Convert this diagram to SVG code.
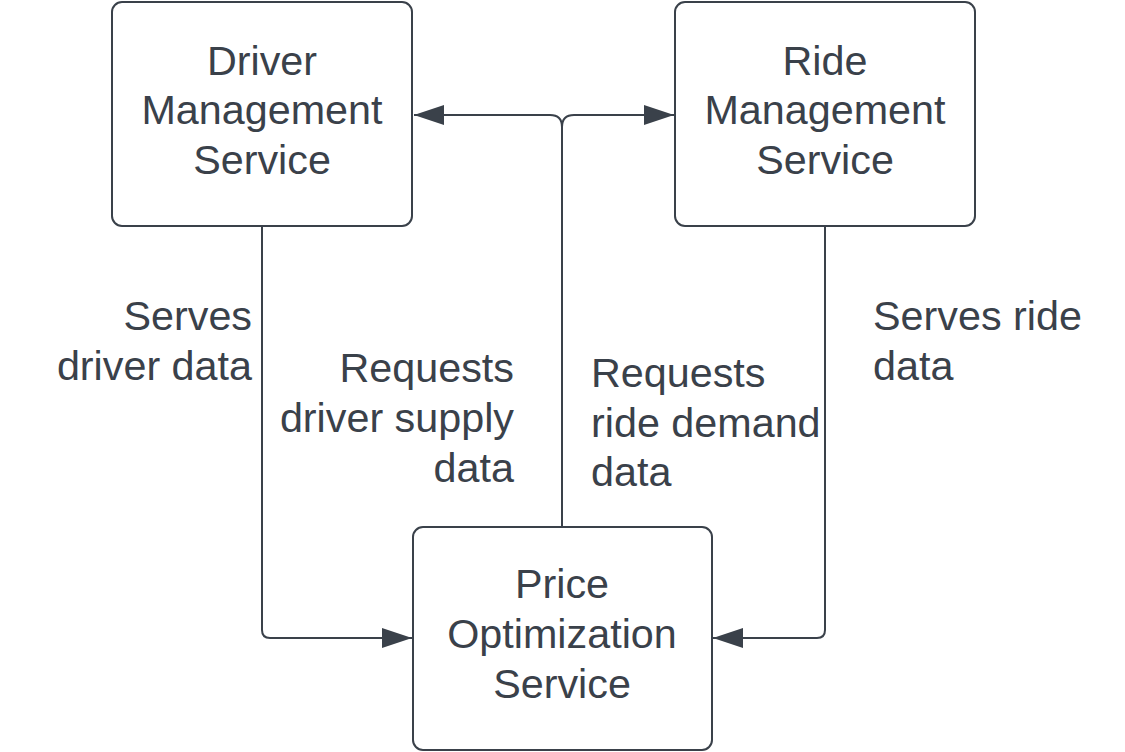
<svg xmlns="http://www.w3.org/2000/svg" width="1125" height="752" viewBox="0 0 1125 752">
<style>
.box{fill:#ffffff;stroke:#3a414a;stroke-width:2}
.t{font-family:"Liberation Sans",Arial,sans-serif;font-size:41.3px;fill:#3a414a}
.c{text-anchor:middle}
.e{text-anchor:end}
.line{fill:none;stroke:#3a414a;stroke-width:2}
</style>
<defs>
<marker id="ah" viewBox="0 0 30 20" refX="30" refY="10" markerWidth="30" markerHeight="20" markerUnits="userSpaceOnUse" orient="auto">
<path d="M0,0 L30,10 L0,20 Z" fill="#3a414a"/>
</marker>
</defs>
<rect width="1125" height="752" fill="#ffffff"/>
<g id="connectors">
<path class="line" d="M562,527 L562,127 Q562,115 550,115 L414,115" marker-end="url(#ah)"/>
<path class="line" d="M562,127 Q562,115 574,115 L674,115" marker-end="url(#ah)"/>
<path class="line" d="M262,226 L262,630 Q262,638 270,638 L412,638" marker-end="url(#ah)"/>
<path class="line" d="M825,226 L825,630 Q825,638 817,638 L713,638" marker-end="url(#ah)"/>
<g class="t e">
<text x="252" y="330">Serves</text>
<text x="252" y="380">driver data</text>
<text x="514" y="382">Requests</text>
<text x="514" y="432">driver supply</text>
<text x="514" y="482">data</text>
</g>
<g class="t">
<text x="591" y="387">Requests</text>
<text x="591" y="437">ride demand</text>
<text x="591" y="486">data</text>
<text x="873" y="330">Serves ride</text>
<text x="873" y="380">data</text>
</g>
</g>
<g id="driver">
<rect class="box" x="112" y="2" width="300" height="224" rx="10"/>
<text class="t c" x="262" y="75">Driver</text>
<text class="t c" x="262" y="124">Management</text>
<text class="t c" x="262" y="174">Service</text>
</g>
<g id="ride">
<rect class="box" x="675" y="2" width="300" height="224" rx="10"/>
<text class="t c" x="825" y="75">Ride</text>
<text class="t c" x="825" y="124">Management</text>
<text class="t c" x="825" y="174">Service</text>
</g>
<g id="price">
<rect class="box" x="413" y="527" width="299" height="223" rx="10"/>
<text class="t c" x="562" y="598">Price</text>
<text class="t c" x="562" y="648">Optimization</text>
<text class="t c" x="562" y="698">Service</text>
</g>
</svg>
